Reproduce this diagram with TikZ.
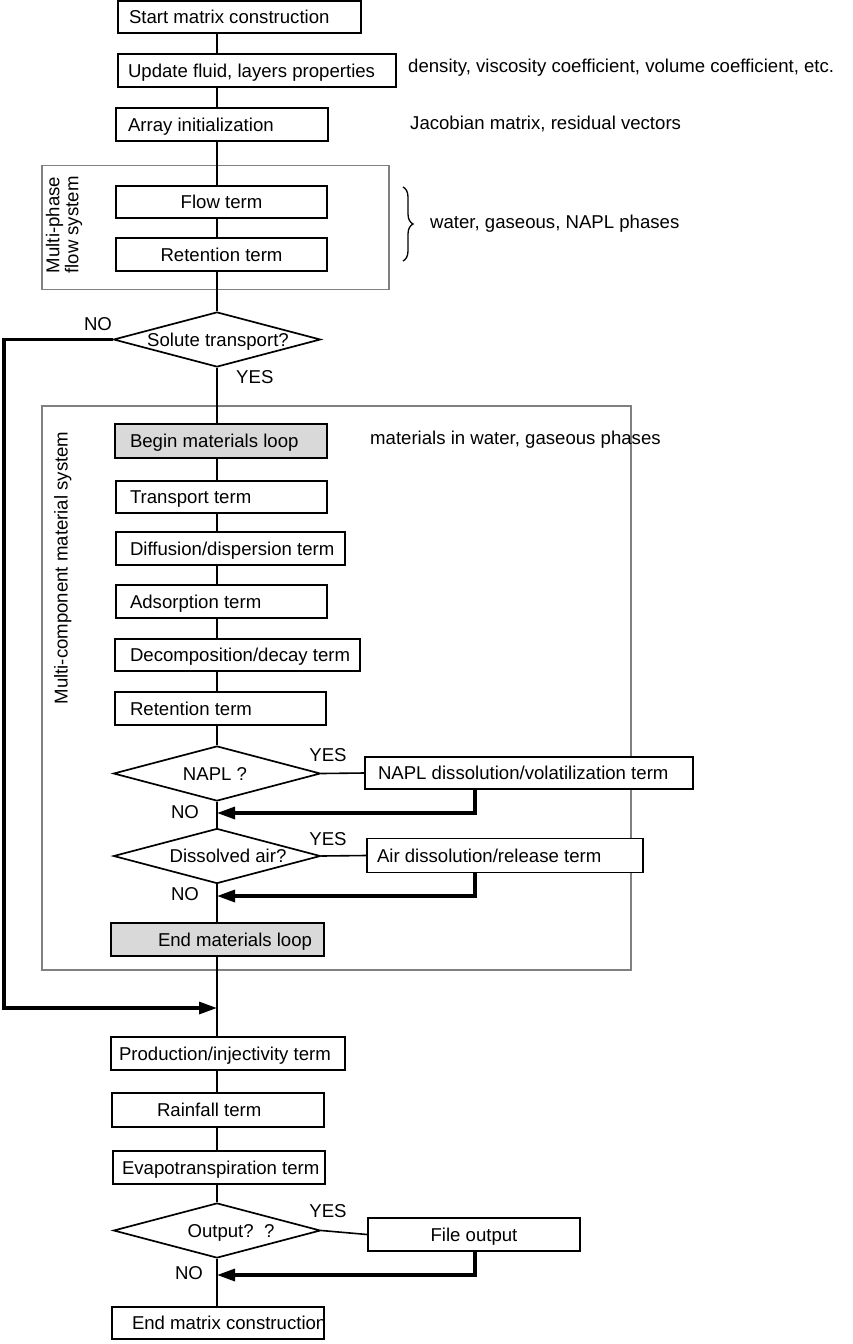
\documentclass[tikz,border=0pt]{standalone}
\usepackage{fontspec}
\setmainfont{Liberation Sans}
\usetikzlibrary{shapes.geometric,arrows.meta,decorations.pathreplacing}
\newcommand\lbtxt[3]{\makebox[#1pt][l]{\hspace*{#2pt}#3}}
\newcommand\cbtxt[2]{\makebox[#1pt]{#2}}
\newcommand\dtxt[2]{\makebox[0pt]{\hspace*{#1pt}#2}}
\begin{document}
\begin{tikzpicture}[x=1pt,y=-1pt,
  font=\fontsize{18.6}{22}\selectfont,
  bx/.style={draw,line width=1.7pt,fill=white,inner sep=0pt,text height=13.3pt,text depth=0pt},
  graybx/.style={bx,fill=gray!30},
  dia/.style={draw,diamond,line width=1.7pt,fill=white,inner sep=0pt,minimum width=207pt,minimum height=55pt,text height=13.3pt,text depth=0pt},
  frame/.style={draw=gray,line width=1.8pt,inner sep=0pt},
  cn/.style={line width=1.8pt},
  tk/.style={line width=3.2pt,-{Triangle[length=18pt,width=12pt]}},
  lbl/.style={inner sep=0pt,text height=13.3pt,text depth=0pt},
  ann/.style={lbl,anchor=west}]
\fill[white] (0,0) rectangle (852,1344);
\useasboundingbox (0,0) rectangle (852,1344);
\coordinate (sp) at (217,0);
% frames
\node[frame,minimum width=347pt,minimum height=124pt] (mpf) at (215.5,227.5) {};
\node[frame,minimum width=589pt,minimum height=564pt] (mcf) at (336.5,688) {};
\node[rotate=90,align=center,inner sep=0pt,font=\fontsize{18.6}{19}\selectfont] (mpl) at (64,225) {Multi-phase\\flow system};
\node[lbl,rotate=90] (mcl) at (61,568) {Multi-component material system};
% connectors on the spine
\coordinate (r1) at (475,813); \coordinate (j1) at (217,813);
\coordinate (r2) at (475,896); \coordinate (j2) at (217,896);
\coordinate (r3) at (475,1275); \coordinate (j3) at (217,1275);
\coordinate (n1) at (4,339.5); \coordinate (n2) at (4,1008); \coordinate (j0) at (217,1008);
% boxes
\node[bx,minimum height=32pt] (start) at (239.5,17) {\lbtxt{243}{11}{Start matrix construction}};
\node[bx,minimum height=33pt] (update) at (257,70.5) {\lbtxt{278}{10}{Update fluid, layers properties}};
\node[bx,minimum height=33pt] (array) at (222,124.5) {\lbtxt{212}{12}{Array initialization}};
\node[bx,minimum height=32pt] (flow) at (221.5,202) {\cbtxt{211}{Flow term}};
\node[bx,minimum height=33pt] (ret1) at (221.5,254.5) {\cbtxt{211}{Retention term}};
\node[dia] (solute) at (217,339.5) {\dtxt{2}{Solute transport?}};
\node[graybx,minimum height=34pt] (begin) at (221,441) {\lbtxt{212}{15}{Begin materials loop}};
\node[bx,minimum height=32pt] (transp) at (221.5,497) {\lbtxt{211}{14}{Transport term}};
\node[bx,minimum height=33pt] (diffu) at (230.5,548.5) {\lbtxt{229}{14}{Diffusion/dispersion term}};
\node[bx,minimum height=33pt] (adsor) at (221.5,601.5) {\lbtxt{211}{14}{Adsorption term}};
\node[bx,minimum height=32pt] (decomp) at (237.5,655) {\lbtxt{245}{15}{Decomposition/decay term}};
\node[bx,minimum height=33pt] (ret2) at (220.5,708.5) {\lbtxt{211}{15}{Retention term}};
\node[dia] (napl) at (217,773.5) {\dtxt{-4}{NAPL ?}};
\node[bx,minimum height=32pt] (naplbox) at (529,773) {\lbtxt{328}{13}{NAPL dissolution/volatilization term}};
\node[dia] (dissol) at (217,856) {\dtxt{22}{Dissolved air?}};
\node[bx,minimum height=34pt] (airbox) at (505,855.5) {\lbtxt{276}{10}{Air dissolution/release term}};
\node[graybx,minimum height=33pt] (endloop) at (217.5,939.5) {\lbtxt{213}{47}{End materials loop}};
\node[bx,minimum height=33pt] (prod) at (228,1053.5) {\lbtxt{234}{8}{Production/injectivity term}};
\node[bx,minimum height=34pt] (rain) at (218,1110) {\lbtxt{212}{45}{Rainfall term}};
\node[bx,minimum height=33pt] (evapo) at (219,1167.5) {\lbtxt{212}{9}{Evapotranspiration term}};
\node[dia] (output) at (217,1230.5) {\dtxt{28}{Output?\ \ ?}};
\node[bx,minimum height=33pt] (filebox) at (474,1234.5) {\cbtxt{212}{File output}};
\node[bx,minimum height=32pt] (endmat) at (218,1323) {\lbtxt{212}{20}{End matrix construction}};
% spine connectors
\draw[cn] (start.south -| sp) -- (update.north -| sp);
\draw[cn] (update.south -| sp) -- (array.north -| sp);
\draw[cn] (array.south -| sp) -- (flow.north -| sp);
\draw[cn] (flow.south -| sp) -- (ret1.north -| sp);
\draw[cn] (ret1.south -| sp) -- (solute.north);
\draw[cn] (solute.south) -- (begin.north -| sp);
\draw[cn] (begin.south -| sp) -- (transp.north -| sp);
\draw[cn] (transp.south -| sp) -- (diffu.north -| sp);
\draw[cn] (diffu.south -| sp) -- (adsor.north -| sp);
\draw[cn] (adsor.south -| sp) -- (decomp.north -| sp);
\draw[cn] (decomp.south -| sp) -- (ret2.north -| sp);
\draw[cn] (ret2.south -| sp) -- (napl.north);
\draw[cn] (napl.south) -- (dissol.north);
\draw[cn] (dissol.south) -- (endloop.north -| sp);
\draw[cn] (endloop.south -| sp) -- (prod.north -| sp);
\draw[cn] (prod.south -| sp) -- (rain.north -| sp);
\draw[cn] (rain.south -| sp) -- (evapo.north -| sp);
\draw[cn] (evapo.south -| sp) -- (output.north);
\draw[cn] (output.south) -- (endmat.north -| sp);
% yes branches
\draw[line width=1.6pt] (napl.east) -- (naplbox.west);
\draw[line width=1.6pt] (dissol.east) -- (airbox.west);
\draw[line width=1.6pt] (output.east) -- (filebox.west);
% return arrows
\draw[tk] (naplbox.south -| r1) -- (r1) -- (j1);
\draw[tk] (airbox.south -| r2) -- (r2) -- (j2);
\draw[tk] (filebox.south -| r3) -- (r3) -- (j3);
\draw[tk] (solute.west) -- (n1) -- (n2) -- (j0);
% labels
\node[lbl] (no0) at (98,324) {NO};
\node[lbl,anchor=west] (yes0) at (236,377) {YES};
\node[lbl] (yes1) at (328,755) {YES};
\node[lbl] (no1) at (185,812) {NO};
\node[lbl] (yes2) at (328,839) {YES};
\node[lbl] (no2) at (185,894) {NO};
\node[lbl] (yes3) at (328,1211) {YES};
\node[lbl] (no3) at (189,1273) {NO};
% annotations
\node[ann] (a1) at (408,66) {density, viscosity coefficient, volume coefficient, etc.};
\node[ann] (a2) at (410,123) {Jacobian matrix, residual vectors};
\node[ann] (a3) at (430,222) {water, gaseous, NAPL phases};
\node[ann] (a4) at (370,438) {materials in water, gaseous phases};
\coordinate (br1) at (403,187); \coordinate (br2) at (403,261);
\draw[line width=1.3pt,decorate,decoration={brace,amplitude=10pt}] (br1) -- (br2);
\end{tikzpicture}
\end{document}
